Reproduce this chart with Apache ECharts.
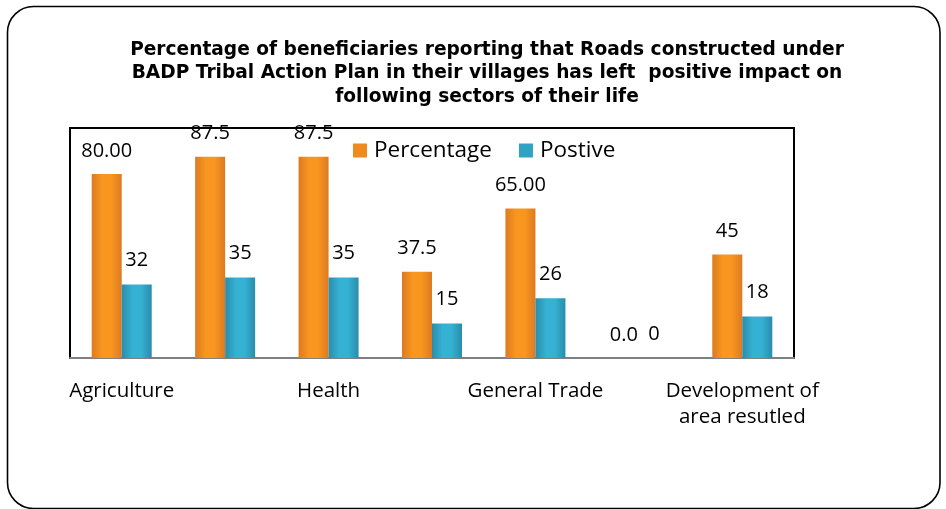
<!DOCTYPE html>
<html>
<head>
<meta charset="utf-8">
<script src="https://cdn.jsdelivr.net/npm/echarts@6/dist/echarts.min.js"></script>
<style>
html,body{margin:0;padding:0;background:#fff;}
#chart{width:946px;height:509px;}
</style>
</head>
<body>
<div id="chart"></div>
<script>
var titleText = 'Percentage of beneficiaries reporting that Roads constructed under\nBADP Tribal Action Plan in their villages has left  positive impact on\nfollowing sectors of their life';
var categories = ['Agriculture', '', 'Health', '', 'General Trade', '', 'Development of area resutled'];
var seriesNames = ['Percentage', 'Postive'];
var percentageValues = [80, 87.5, 87.5, 37.5, 65, 0, 45];
var percentageLabels = ['80.00', '87.5', '87.5', '37.5', '65.00', '0.0', '45'];
var positiveValues = [32, 35, 35, 15, 26, 0, 18];
var positiveLabels = ['32', '35', '35', '15', '26', '0', '18'];

var chart = echarts.init(document.getElementById('chart'), null, {renderer: 'canvas'});
var labelFont = '"Open Sans", Lato, sans-serif';

function hGrad(edge, mid) {
  return new echarts.graphic.LinearGradient(0, 0, 1, 0, [
    {offset: 0, color: edge},
    {offset: 0.35, color: mid},
    {offset: 0.65, color: mid},
    {offset: 1, color: edge}
  ]);
}

chart.setOption({
  animation: false,
  backgroundColor: '#fff',
  graphic: [{
    type: 'rect',
    shape: {x: 7.5, y: 6.5, width: 932.5, height: 502, r: 26},
    style: {fill: 'none', stroke: '#000', lineWidth: 1.6},
    z: 0
  }],
  title: {
    text: titleText,
    left: 482,
    textAlign: 'center',
    top: 33,
    textStyle: {
      fontFamily: '"DejaVu Sans", Verdana, sans-serif',
      fontWeight: 'bold',
      fontSize: 18.6,
      lineHeight: 23.5,
      color: '#000'
    }
  },
  legend: {
    left: 348,
    top: 134,
    itemWidth: 14,
    itemHeight: 14,
    itemGap: 27,
    icon: 'rect',
    textStyle: {fontFamily: labelFont, fontSize: 22.5, color: '#000', padding: [0, 0, 0, 2]},
    data: [
      {name: seriesNames[0], itemStyle: {color: '#F08A1E'}},
      {name: seriesNames[1], itemStyle: {color: '#2FA3C4'}}
    ]
  },
  grid: {
    left: 70, top: 128, right: 152, bottom: 151,
    show: true, borderColor: '#000', borderWidth: 2, backgroundColor: 'transparent'
  },
  xAxis: {
    type: 'category',
    data: categories,
    axisLine: {show: true, lineStyle: {color: '#808080', width: 2}},
    axisTick: {show: false},
    axisLabel: {
      interval: 0,
      margin: 20,
      color: '#000',
      fontFamily: labelFont,
      fontSize: 20.5,
      lineHeight: 26,
      formatter: function (v) { return v.replace(' area', '\narea'); }
    }
  },
  yAxis: {
    type: 'value',
    min: 0, max: 100,
    show: false,
    splitLine: {show: false}
  },
  series: [{
    name: seriesNames[0],
    type: 'bar',
    data: percentageValues,
    barWidth: 30,
    barGap: '0%',
    itemStyle: {color: hGrad('#DD7A22', '#F8961F')},
    label: {
      show: true, position: 'top', distance: 13,
      fontFamily: labelFont, fontSize: 20, color: '#000',
      formatter: function (p) { return percentageLabels[p.dataIndex]; }
    }
  }, {
    name: seriesNames[1],
    type: 'bar',
    data: positiveValues,
    barWidth: 30,
    itemStyle: {color: hGrad('#2A8CAB', '#35B1D3')},
    label: {
      show: true, position: 'top', distance: 14,
      fontFamily: labelFont, fontSize: 20, color: '#000',
      formatter: function (p) { return positiveLabels[p.dataIndex]; }
    }
  }]
});
</script>
</body>
</html>
